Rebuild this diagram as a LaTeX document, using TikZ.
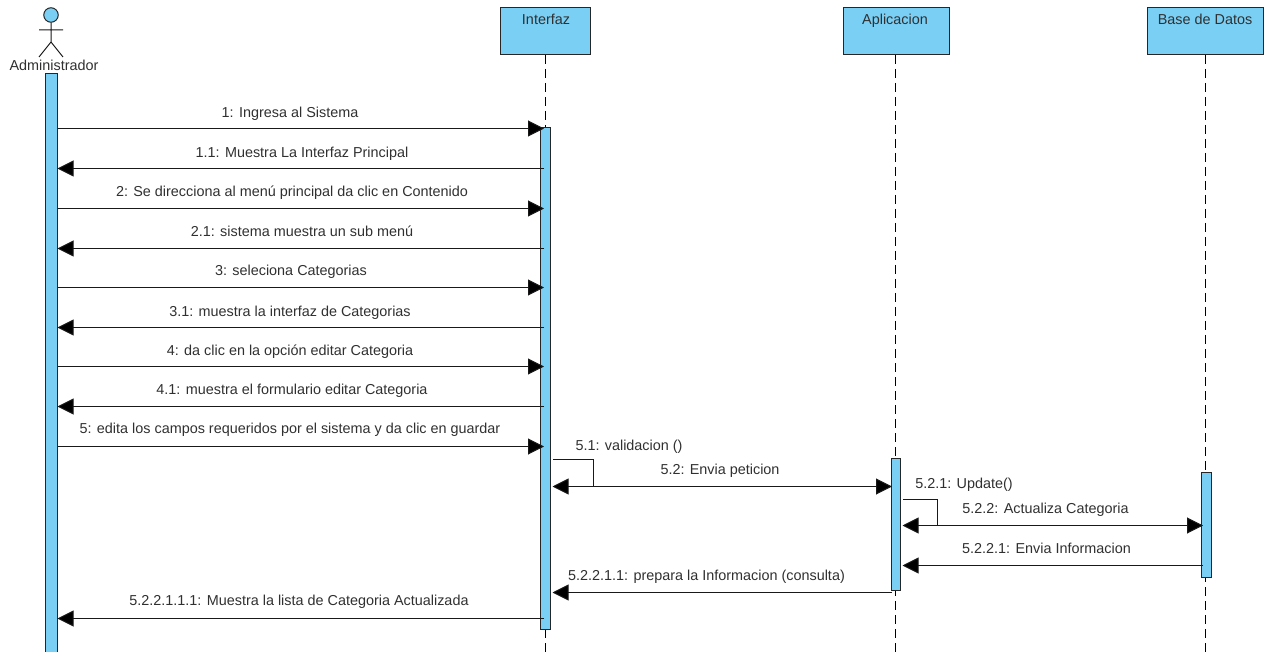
\documentclass[tikz,border=0pt]{standalone}
\usepackage{fontspec}
\setmainfont{Liberation Sans}
\usetikzlibrary{arrows.meta}
\definecolor{lblue}{HTML}{7ACFF5}
\definecolor{txt}{HTML}{303030}
\tikzset{
 x=1pt,y=-1pt,
 objbox/.style={draw=black!85,line width=1pt,fill=lblue,minimum width=#1,minimum height=47pt,inner sep=0pt},
 objname/.style={font=\fontsize{14.4}{16}\selectfont,text=txt,inner sep=0pt,text height=10.5pt,text depth=3pt},
 msglabel/.style={font=\fontsize{14.4}{16}\selectfont,text=txt,inner sep=0pt,anchor=center,text height=10.5pt,text depth=3pt},
 bar/.style={draw=black!85,line width=1pt,fill=lblue,inner sep=0pt},
 life/.style={draw=black,line width=1pt,dash pattern=on 9pt off 5pt},
 msg/.style={draw=black!90,line width=1pt,-{Triangle[length=16pt,width=16pt,fill=black]}},
 msgboth/.style={draw=black!90,line width=1pt,{Triangle[length=16pt,width=16pt,fill=black]}-{Triangle[length=16pt,width=16pt,fill=black]}},
 plain/.style={draw=black!90,line width=1pt},
}
\begin{document}
\begin{tikzpicture}
\useasboundingbox (0,0) rectangle (1269,652);
% object boxes
\node[objbox=90pt] (intbox) at (545,31.5) {};
\node[objbox=106pt] (appl) at (896,31.5) {};
\node[objbox=116pt] (bd) at (1205,31.5) {};
\node[objname] (intfn) at (546,21) {Interfaz};
\node[objname] (appln) at (895,21) {Aplicacion};
\node[objname] (bdn) at (1205,21) {Base de Datos};
% lifeline ends
\coordinate (intfS) at (545.5,55);
\coordinate (intfE) at (545.5,652);
\coordinate (applS) at (895.5,55);
\coordinate (applE) at (895.5,652);
\coordinate (bdS) at (1205.5,55);
\coordinate (bdE) at (1205.5,652);
\draw[life] (intfS) -- (intfE);
\draw[life] (applS) -- (applE);
\draw[life] (bdS) -- (bdE);
% actor
\node[circle,draw=black!85,line width=1pt,fill=lblue,minimum size=14.5pt,inner sep=0pt] (head) at (51,15) {};
\coordinate (hip) at (51,42);
\coordinate (armL) at (39,30);
\coordinate (armR) at (63,30);
\coordinate (legL) at (39,57);
\coordinate (legR) at (63,57);
\draw[plain] (head.south) -- (hip) (armL) -- (armR) (legL) -- (hip) -- (legR);
\node[objname] (adm) at (54,67) {Administrador};
% activations
\draw[bar] (45.5,73.5) rectangle (57,660);
\draw[bar] (540.5,127.5) rectangle (550.5,629.5);
\draw[bar] (891.5,458.5) rectangle (900.5,590.5);
\draw[bar] (1201.5,472.5) rectangle (1211,577.5);
% anchors on activations
\foreach \n/\y in {a/128.5,b/168.5,c/208.5,d/248.5,e/287.5,f/327.5,g/366.5,h/406.5,i/446.5,z/618.5}{
  \coordinate (adm\n) at (57.5,\y);
  \coordinate (ifz\n) at (544,\y);
}
\draw[msg] (adma) -- (ifza);
\draw[msg] (ifzb) -- (admb);
\draw[msg] (admc) -- (ifzc);
\draw[msg] (ifzd) -- (admd);
\draw[msg] (adme) -- (ifze);
\draw[msg] (ifzf) -- (admf);
\draw[msg] (admg) -- (ifzg);
\draw[msg] (ifzh) -- (admh);
\draw[msg] (admi) -- (ifzi);
\draw[msg] (ifzz) -- (admz);
% self messages and lower messages
\coordinate (s1a) at (553,459.5);
\coordinate (s1b) at (593.5,459.5);
\coordinate (s1c) at (593.5,486.5);
\coordinate (s1l) at (552.5,486.5);
\coordinate (s1r) at (892,486.5);
\draw[plain] (s1a) -- (s1b) -- (s1c);
\draw[msgboth] (s1l) -- (s1r);
\coordinate (s2a) at (903,499.5);
\coordinate (s2b) at (937.5,499.5);
\coordinate (s2c) at (937.5,525.5);
\coordinate (s2l) at (902.5,525.5);
\coordinate (s2r) at (1203,525.5);
\draw[plain] (s2a) -- (s2b) -- (s2c);
\draw[msgboth] (s2l) -- (s2r);
\coordinate (m3r) at (1203,565.5);
\coordinate (m3l) at (902.5,565.5);
\draw[msg] (m3r) -- (m3l);
\coordinate (m4r) at (892,592.5);
\coordinate (m4l) at (552.5,592.5);
\draw[msg] (m4r) -- (m4l);
% labels
\node[msglabel] (l1) at (290,114) {1: Ingresa al Sistema};
\node[msglabel] (l2) at (302,154) {1.1: Muestra La Interfaz Principal};
\node[msglabel] (l3) at (292,193) {2: Se direcciona al menú principal da clic en Contenido};
\node[msglabel] (l4) at (302,233) {2.1: sistema muestra un sub menú};
\node[msglabel] (l5) at (291,272) {3: seleciona Categorias};
\node[msglabel] (l6) at (290,313) {3.1: muestra la interfaz de Categorias};
\node[msglabel] (l7) at (290,352) {4: da clic en la opción editar Categoria};
\node[msglabel] (l8) at (292,391) {4.1: muestra el formulario editar Categoria};
\node[msglabel] (l9) at (290,430) {5: edita los campos requeridos por el sistema y da clic en guardar};
\node[msglabel] (l10) at (629,447) {5.1: validacion ()};
\node[msglabel] (l11) at (720,471) {5.2: Envia peticion};
\node[msglabel] (l12) at (964,485) {5.2.1: Update()};
\node[msglabel] (l13) at (1045.5,510) {5.2.2: Actualiza Categoria};
\node[msglabel] (l14) at (1046.5,550) {5.2.2.1: Envia Informacion};
\node[msglabel] (l15) at (706.5,577) {5.2.2.1.1: prepara la Informacion (consulta)};
\node[msglabel] (l16) at (299,602) {5.2.2.1.1.1: Muestra la lista de Categoria Actualizada};
\end{tikzpicture}
\end{document}
